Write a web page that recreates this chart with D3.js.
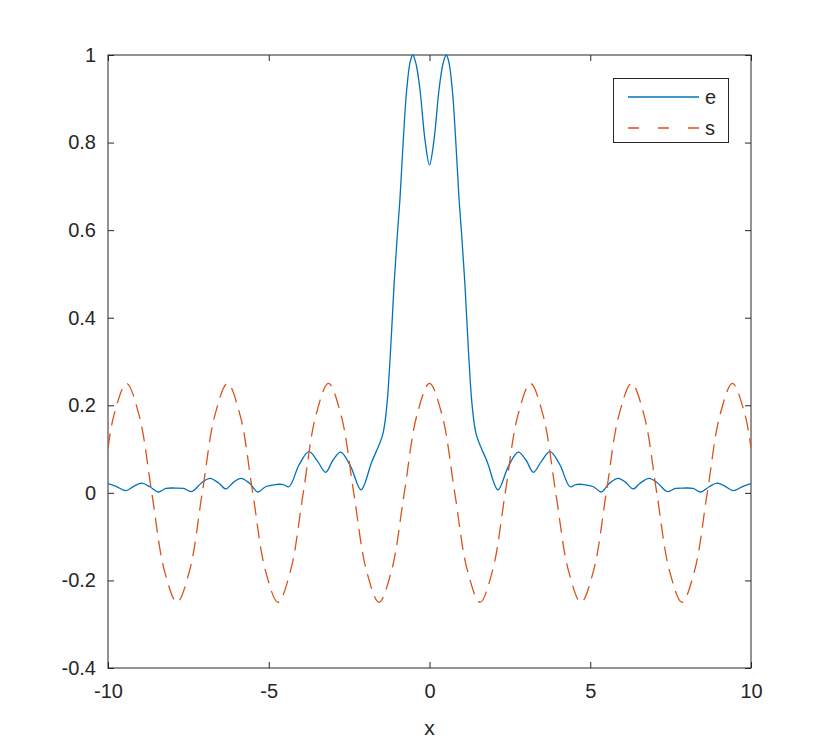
<!DOCTYPE html>
<html>
<head>
<meta charset="utf-8">
<script src="https://cdn.jsdelivr.net/npm/d3@7"></script>
<style>
  html, body { margin: 0; padding: 0; background: #fff; }
  svg text { font-family: "Liberation Sans", Arial, Helvetica, sans-serif; fill: #262626; }
</style>
</head>
<body>
<svg id="chart" width="830" height="750"></svg>
<script>
// ---- data ----
const eX = [-10, -9.75, -9.44, -9.2, -8.95, -8.7, -8.44, -8.2, -7.9, -7.65, -7.4, -7.1, -6.83, -6.55, -6.33, -6.1, -5.87, -5.6, -5.34, -5.1, -4.8, -4.55, -4.37, -4.05, -3.75, -3.48, -3.23, -3.0, -2.76, -2.45, -2.13, -1.8, -1.46, -1.33, -1.21, -1.1, -1.0, -0.92, -0.815, -0.71, -0.6, -0.52, -0.42, -0.295, -0.14, 0,
            0.14, 0.295, 0.42, 0.52, 0.6, 0.71, 0.815, 0.92, 1.0, 1.1, 1.21, 1.33, 1.46, 1.8, 2.13, 2.45, 2.76, 3.0, 3.23, 3.48, 3.75, 4.05, 4.37, 4.55, 4.8, 5.1, 5.34, 5.6, 5.87, 6.1, 6.33, 6.55, 6.83, 7.1, 7.4, 7.65, 7.9, 8.2, 8.44, 8.7, 8.95, 9.2, 9.44, 9.75, 10];
const eY = [0.021, 0.015, 0.005, 0.015, 0.022, 0.014, 0.002, 0.010, 0.011, 0.010, 0.003, 0.022, 0.033, 0.022, 0.009, 0.024, 0.033, 0.022, 0.002, 0.014, 0.019, 0.019, 0.014, 0.065, 0.094, 0.072, 0.047, 0.075, 0.093, 0.060, 0.007, 0.070, 0.132, 0.197, 0.327, 0.479, 0.59, 0.67, 0.806, 0.92, 0.985, 1.0, 0.98, 0.92, 0.806, 0.749,
            0.806, 0.92, 0.98, 1.0, 0.985, 0.92, 0.806, 0.67, 0.59, 0.479, 0.327, 0.197, 0.132, 0.070, 0.007, 0.060, 0.093, 0.075, 0.047, 0.072, 0.094, 0.065, 0.014, 0.019, 0.019, 0.014, 0.002, 0.022, 0.033, 0.024, 0.009, 0.022, 0.033, 0.022, 0.003, 0.010, 0.011, 0.010, 0.002, 0.014, 0.022, 0.015, 0.005, 0.015, 0.021];

const sX = [-10, -9.817, -9.425, -9.032, -8.639, -8.247, -7.854, -7.461, -7.069, -6.676, -6.283, -5.890, -5.498, -5.105, -4.712, -4.320, -3.927, -3.534, -3.142, -2.749, -2.356, -1.963, -1.571, -1.178, -0.785, -0.393, 0,
            0.393, 0.785, 1.178, 1.571, 1.963, 2.356, 2.749, 3.142, 3.534, 3.927, 4.320, 4.712, 5.105, 5.498, 5.890, 6.283, 6.676, 7.069, 7.461, 7.854, 8.247, 8.639, 9.032, 9.425, 9.817, 10];
const sY = [0.102, 0.177, 0.25, 0.177, 0, -0.177, -0.25, -0.177, 0, 0.177, 0.25, 0.177, 0, -0.177, -0.25, -0.177, 0, 0.177, 0.25, 0.177, 0, -0.177, -0.25, -0.177, 0, 0.177, 0.25,
            0.177, 0, -0.177, -0.25, -0.177, 0, 0.177, 0.25, 0.177, 0, -0.177, -0.25, -0.177, 0, 0.177, 0.25, 0.177, 0, -0.177, -0.25, -0.177, 0, 0.177, 0.25, 0.177, 0.102];

const xTicks = [-10, -5, 0, 5, 10];
const yTicks = [-0.4, -0.2, 0, 0.2, 0.4, 0.6, 0.8, 1];
const xTickLabels = ["-10", "-5", "0", "5", "10"];
const yTickLabels = ["-0.4", "-0.2", "0", "0.2", "0.4", "0.6", "0.8", "1"];
const seriesNames = ["e", "s"];
const seriesColors = ["#0072BD", "#D95319"];
const xLabel = "x";

// ---- layout ----
const L = 108, R = 751, T = 55, B = 668;
const svg = d3.select("#chart");
const x = d3.scaleLinear().domain([-10, 10]).range([L, R]);
const y = d3.scaleLinear().domain([-0.4, 1]).range([B, T]);
const axisColor = "#262626";
const fontSize = 20;

svg.append("defs").append("clipPath").attr("id", "clip")
  .append("rect").attr("x", L).attr("y", T - 2).attr("width", R - L).attr("height", B - T + 2);

const tickLen = 6;
const g = svg.append("g");
function styleAxis(sel) {
  sel.select(".domain").remove();
  sel.selectAll(".tick line").attr("stroke", axisColor).attr("stroke-width", 1);
  sel.selectAll(".tick text").attr("font-size", fontSize).style("font-family", '"Liberation Sans", Arial, sans-serif').attr("fill", axisColor);
}
g.append("g").attr("transform", `translate(0,${B})`)
  .call(d3.axisBottom(x).tickValues(xTicks).tickSizeInner(-tickLen).tickSizeOuter(0).tickPadding(16)
    .tickFormat((d, i) => xTickLabels[i]))
  .call(styleAxis);
g.append("g").attr("transform", `translate(0,${T})`)
  .call(d3.axisTop(x).tickValues(xTicks).tickSizeInner(-tickLen).tickSizeOuter(0).tickFormat(""))
  .call(styleAxis);
g.append("g").attr("transform", `translate(${L},0)`)
  .call(d3.axisLeft(y).tickValues(yTicks).tickSizeInner(-tickLen).tickSizeOuter(0).tickPadding(12)
    .tickFormat((d, i) => yTickLabels[i]))
  .call(styleAxis);
g.append("g").attr("transform", `translate(${R},0)`)
  .call(d3.axisRight(y).tickValues(yTicks).tickSizeInner(-tickLen).tickSizeOuter(0).tickFormat(""))
  .call(styleAxis);

svg.append("rect").attr("x", L).attr("y", T).attr("width", R - L).attr("height", B - T)
  .attr("fill", "none").attr("stroke", axisColor).attr("stroke-width", 1);

const line = d3.line().x(d => x(d[0])).y(d => y(d[1])).curve(d3.curveCatmullRom.alpha(0.5));
const eData = eX.map((v, i) => [v, eY[i]]);
const sData = sX.map((v, i) => [v, sY[i]]);
const plot = svg.append("g").attr("clip-path", "url(#clip)");
plot.append("path").datum(eData).attr("d", line)
  .attr("fill", "none").attr("stroke", seriesColors[0]).attr("stroke-width", 1.3);
plot.append("path").datum(sData).attr("d", line)
  .attr("fill", "none").attr("stroke", seriesColors[1]).attr("stroke-width", 1.3)
  .attr("stroke-dasharray", "15,8");

svg.append("text").attr("x", (L + R) / 2).attr("y", 735).attr("text-anchor", "middle")
  .attr("font-size", fontSize + 1).text(xLabel);

const lg = svg.append("g");
lg.append("rect").attr("x", 613.5).attr("y", 78.5).attr("width", 115).attr("height", 64)
  .attr("fill", "#fff").attr("stroke", axisColor).attr("stroke-width", 1);
const legY = [97, 128];
seriesNames.forEach((n, i) => {
  lg.append("line").attr("x1", 628).attr("x2", 699).attr("y1", legY[i]).attr("y2", legY[i])
    .attr("stroke", seriesColors[i]).attr("stroke-width", 1.3)
    .attr("stroke-dasharray", i === 1 ? "11,19" : null);
  lg.append("text").attr("x", 705).attr("y", legY[i]).attr("dy", "0.35em")
    .attr("font-size", fontSize).text(n);
});
</script>
</body>
</html>
